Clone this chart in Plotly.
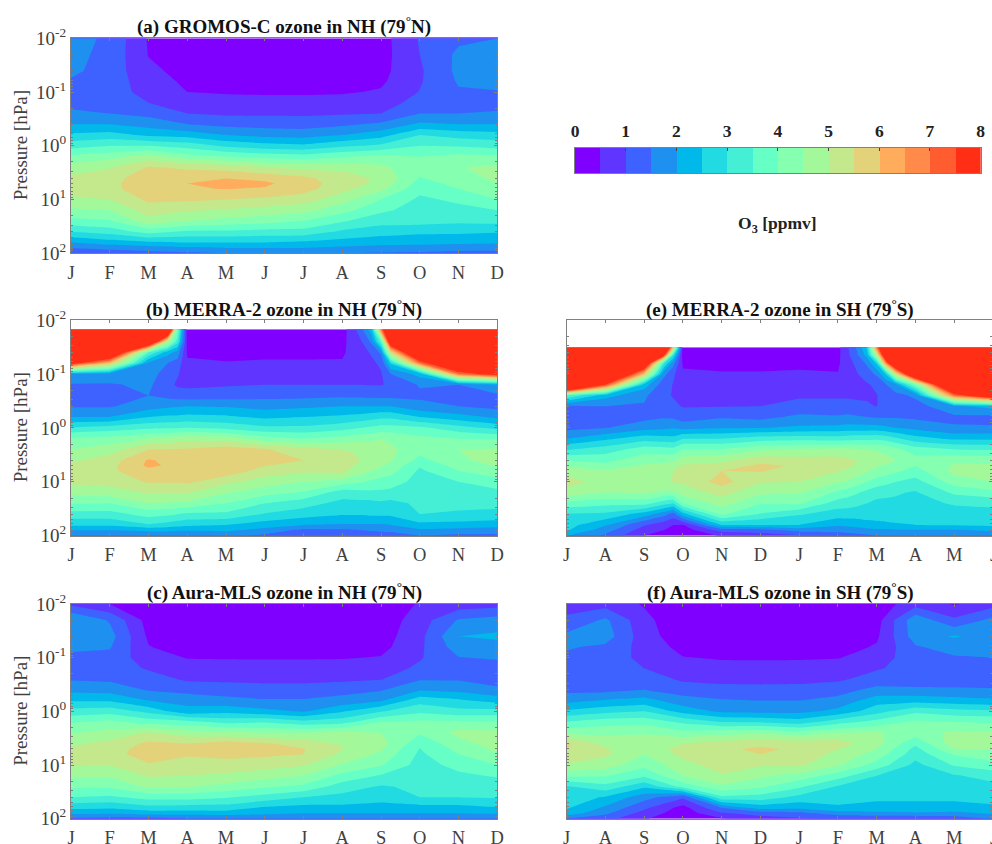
import numpy as np
import plotly.graph_objects as go

NH_MONTHS = ["J", "F", "M", "A", "M", "J", "J", "A", "S", "O", "N", "D"]
SH_MONTHS = ["J", "A", "S", "O", "N", "D", "J", "F", "M", "A", "M", "J"]
MONTH_POS = [0, 1, 2, 3, 4, 5, 6, 7, 8, 9, 10, 11]

P_FULL = [0.01, 0.02, 0.04, 0.063, 0.1, 0.158, 0.251, 0.398, 0.631, 1, 1.585, 2.512, 3.981, 5.012, 6.31, 10,
          15.85, 25.12, 39.81, 63.1, 79.43, 100]
P_MERRA_N = [0.0149, 0.0251, 0.04, 0.063, 0.1, 0.158, 0.251, 0.398, 0.631, 1, 1.585, 2.512, 3.981, 5.012, 6.31, 10,
             15.85, 25.12, 39.81, 63.1, 79.43, 100]
P_MERRA_S = [0.0321, 0.0447, 0.063, 0.1, 0.158, 0.251, 0.398, 0.631, 1, 1.585, 2.512, 3.981, 5.012, 6.31, 10,
             15.85, 25.12, 39.81, 63.1, 79.43, 100]

X_MERRA_N = [0, 1, 2, 2.5, 2.75, 3, 4, 5, 6, 7, 7.25, 7.5, 7.75, 8, 8.25, 9, 10, 11]
X_MERRA_S = [0, 1, 2, 2.5, 2.75, 3, 4, 5, 6, 7, 7.25, 7.5, 7.75, 8, 8.25, 8.5, 9, 10, 11]

# each inner list is one month, from the top pressure level to the bottom one
GROMOS_NH = [
    [1.7, 1.65, 1.6, 1.45, 1.3, 1.35, 1.6, 2, 2.6, 3.3, 4.1, 4.75, 5.1, 5.15, 5.2, 4.9, 4.4, 3.85, 3, 2, 1.5, 1.1],
    [1.4, 1.35, 1.3, 1.25, 1.2, 1.25, 1.5, 2, 2.7, 3.5, 4.3, 4.95, 5.3, 5.35, 5.35, 5, 4.5, 3.95, 3.2, 2.25, 1.65, 1.2],
    [.45, .48, .6, .75, .85, 1, 1.35, 1.8, 2.4, 3.5, 4.7, 5.55, 5.8, 5.85, 5.85, 5.6, 5.25, 4.8, 3.7, 2.4, 1.8, 1.3],
    [.3, .3, .35, .4, .5, .75, 1, 1.5, 2.3, 3.3, 4.2, 5.4, 5.85, 6, 5.95, 5.6, 5.05, 4.5, 3.4, 2.5, 1.9, 1.4],
    [.2, .2, .25, .3, .45, .7, .92, 1.35, 2, 2.9, 4, 5.3, 5.98, 6.2, 6.02, 5.5, 4.95, 4.3, 3.4, 2.5, 2, 1.5],
    [.15, .15, .2, .3, .43, .68, .92, 1.3, 1.85, 2.7, 3.8, 5, 5.85, 6.1, 5.95, 5.4, 4.8, 4.2, 3.3, 2.5, 2, 1.5],
    [.15, .15, .2, .3, .43, .68, .92, 1.27, 1.8, 2.6, 3.7, 4.85, 5.6, 5.7, 5.7, 5.25, 4.65, 4, 3.3, 2.4, 2, 1.5],
    [.2, .2, .25, .3, .45, .7, .95, 1.4, 2, 2.9, 3.95, 4.85, 5.25, 5.3, 5.15, 4.7, 4.2, 3.55, 2.9, 2.3, 1.9, 1.5],
    [.3, .3, .35, .42, .55, .75, 1, 1.6, 2.3, 3.1, 4.15, 4.6, 4.9, 4.85, 4.65, 4, 3.6, 3.2, 2.7, 2.2, 1.8, 1.45],
    [1.05, 1, .93, .95, 1.02, 1.2, 1.5, 2.1, 3, 3.5, 4, 4.2, 3.97, 3.8, 3.65, 3.4, 3.3, 3.2, 2.6, 2.15, 1.8, 1.4],
    [1.4, 1.6, 1.62, 1.55, 1.45, 1.35, 1.5, 2, 2.8, 3.45, 4.15, 4.48, 4.3, 4.15, 4, 3.6, 3.35, 3.1, 2.6, 2.1, 1.75, 1.3],
    [1.5, 1.65, 1.7, 1.6, 1.48, 1.35, 1.55, 2, 2.7, 3.3, 4.1, 4.6, 4.6, 4.5, 4.3, 4, 3.5, 3.15, 2.55, 2.05, 1.7, 1.3],
]

AURA_NH = [
    [.9, 2, 1.95, 1.6, 1.4, 1.3, 1.45, 1.85, 2.45, 3.2, 3.95, 4.45, 4.9, 5.05, 5.2, 5.05, 4.6, 4.1, 3.5, 2.6, 2.1, 1.4],
    [.5, 1.45, 1.7, 1.55, 1.35, 1.25, 1.4, 1.8, 2.45, 3.3, 4.15, 4.65, 5.15, 5.25, 5.3, 5, 4.55, 4.1, 3.4, 2.55, 2.05, 1.3],
    [.2, .3, .42, .52, .7, .95, 1.2, 1.45, 2, 2.85, 3.8, 5.05, 5.6, 5.75, 5.75, 5.45, 5.05, 4.6, 3.7, 2.8, 2.2, 1.3],
    [.1, .1, .2, .3, .48, .7, .93, 1.3, 1.85, 2.15, 3.7, 4.7, 5.5, 5.6, 5.55, 5.3, 5, 4.55, 3.7, 2.75, 2.2, 1.5],
    [.1, .1, .15, .25, .47, .68, .9, 1.25, 1.65, 2.35, 3.35, 4.65, 5.7, 5.75, 5.65, 5.3, 4.9, 4.35, 3.55, 2.75, 2.25, 1.5],
    [.1, .1, .15, .25, .46, .68, .88, 1.2, 1.55, 2.15, 3.45, 4.5, 5.55, 5.65, 5.6, 5.2, 4.7, 4.1, 3.3, 2.4, 2.1, 1.6],
    [.1, .1, .15, .25, .46, .68, .87, 1.2, 1.55, 1.95, 3.15, 4.5, 5.3, 5.52, 5.5, 5.05, 4.5, 3.9, 3, 2.3, 2, 1.6],
    [.1, .12, .17, .28, .47, .7, .9, 1.3, 1.7, 2.45, 3.3, 4.65, 4.95, 5.02, 4.9, 4.45, 3.85, 3.25, 2.85, 2.35, 2, 1.6],
    [.15, .2, .27, .35, .53, .75, .97, 1.45, 1.95, 2.95, 4, 4.5, 4.7, 4.55, 4.4, 4.05, 3.45, 2.95, 2.7, 2.3, 2, 1.6],
    [.55, .75, .85, .9, .95, 1.1, 1.45, 1.95, 2.8, 3.4, 4.1, 4.05, 3.65, 3.48, 3.4, 3.3, 3.2, 3.1, 3, 2.3, 2, 1.5],
    [.7, 1.55, 2, 1.75, 1.48, 1.3, 1.45, 1.85, 2.6, 3.15, 4.1, 4.65, 4.3, 4.15, 4, 3.65, 3.4, 3.2, 3, 2.3, 2, 1.5],
    [.8, 1.7, 2.1, 1.8, 1.55, 1.3, 1.3, 1.6, 2.3, 3.2, 4.05, 4.65, 4.75, 4.6, 4.45, 4, 3.55, 3.2, 3.05, 2.45, 2.05, 1.6],
]

AURA_SH = [
    [.9, 1.05, 1.65, 1.55, 1.4, 1.25, 1.2, 1.35, 1.85, 2.6, 3.55, 4.4, 5.6, 5.5, 5.3, 4.95, 4.1, 2.95, 2.75, 2.55, 2.3, 1.5],
    [.8, 1.6, 1.75, 1.4, 1.3, 1.2, 1.2, 1.35, 2.05, 2.85, 3.8, 4.35, 4.85, 5.05, 5.1, 4.75, 4.05, 3.35, 2.45, 1.9, 1.6, 1.2],
    [.45, .65, .72, .8, .85, 1, 1.25, 1.5, 2.2, 3, 3.85, 4.45, 4.75, 4.65, 4.5, 4.15, 3.6, 2.6, 1.7, 1.1, .8, .55],
    [.1, .1, .2, .35, .52, .72, .92, 1.25, 1.7, 2.3, 3.4, 4.15, 5, 5.2, 5.15, 4.8, 4.5, 3.7, 1.1, .3, .2, .15],
    [.1, .1, .15, .25, .46, .65, .87, 1.15, 1.55, 1.9, 3, 4.3, 5.25, 5.4, 5.5, 5.25, 4.95, 4.4, 3.4, 1.5, .95, .45],
    [.1, .1, .15, .25, .45, .65, .85, 1.15, 1.5, 1.85, 2.95, 4.45, 5.35, 5.6, 5.5, 5.05, 4.6, 4.1, 3.3, 2.2, 1.2, .8],
    [.1, .1, .15, .25, .46, .65, .87, 1.15, 1.5, 1.85, 2.75, 4.2, 5.3, 5.4, 5.35, 5.1, 4.3, 3.6, 2.85, 2.1, 1.35, .95],
    [.1, .1, .17, .3, .48, .7, .92, 1.3, 1.65, 2.15, 3.3, 4.5, 5.25, 5.02, 4.85, 4.55, 3.75, 2.95, 2.75, 2.4, 1.75, 1.05],
    [.2, .3, .42, .55, .7, .95, 1.2, 1.65, 2.3, 2.8, 3.7, 4.55, 4.7, 4.5, 4.3, 3.8, 3, 2.8, 2.65, 2.25, 1.9, 1.05],
    [.8, 1.85, 1.75, 1.45, 1.35, 1.2, 1.1, 1.65, 2.3, 3.4, 4.1, 4.25, 3.6, 3.35, 3.2, 2.85, 2.75, 2.7, 2.65, 2.25, 1.95, 1.1],
    [.45, 1.1, 2.05, 1.7, 1.45, 1.3, 1.2, 1.6, 2.2, 3.2, 4, 4.6, 4.8, 4.5, 4.05, 3.55, 2.95, 2.8, 2.65, 2.25, 1.9, 1.1],
    [.8, 1.65, 1.8, 1.65, 1.5, 1.35, 1.25, 1.55, 2.1, 3.1, 3.95, 4.6, 4.75, 4.5, 4.35, 3.8, 3.2, 2.85, 2.7, 2.4, 2.05, 1.6],
]

MERRA_NH = [
    [10, 10, 10, 8.1, 2, 1.45, 1.35, 1.45, 2, 3.05, 4.1, 4.5, 4.9, 5.1, 5.25, 5.15, 4.65, 4.05, 3.3, 2.6, 2, 1.6],
    [10, 10, 10, 6, 1.85, 1.45, 1.3, 1.45, 2, 3.2, 4.2, 4.75, 5.25, 5.35, 5.4, 5.2, 4.75, 4, 3.3, 2.6, 2, 1.6],
    [10, 10, 3.5, 1.9, 1.75, 1.6, 1.5, 1.75, 2.5, 3.4, 4.5, 5.5, 6.05, 6.1, 5.85, 5.55, 5.05, 4.5, 3.7, 2.95, 2.1, 1.6],
    [10.5, 5, 2.2, 1.5, 1.25, 1.15, 1.35, 1.9, 2.6, 3.45, 4.65, 5.52, 5.9, 5.95, 5.85, 5.55, 5.05, 4.45, 3.6, 2.8, 2.1, 1.6],
    [4, 3.2, 1.8, 1.3, 1.05, .92, 1.25, 1.95, 2.6, 3.45, 4.75, 5.55, 5.8, 5.85, 5.8, 5.55, 5.05, 4.4, 3.5, 2.7, 2.05, 1.55],
    [.3, .35, .45, .55, .7, .9, 1.2, 2, 2.65, 3.5, 4.8, 5.55, 5.75, 5.8, 5.8, 5.6, 5.05, 4.4, 3.4, 2.6, 2.05, 1.55],
    [.3, .3, .4, .52, .68, .95, 1.25, 1.95, 2.6, 3.35, 4.8, 5.75, 5.95, 5.95, 5.8, 5.15, 4.55, 4, 3.4, 2.5, 2.1, 1.6],
    [.25, .28, .4, .55, .75, 1, 1.35, 1.8, 2.4, 3.1, 4.2, 5.55, 5.8, 5.52, 5.3, 4.75, 4.2, 3.5, 2.95, 2.25, 1.8, 1.4],
    [.22, .25, .4, .55, .78, 1, 1.35, 1.9, 2.5, 3.1, 4, 5.2, 5.5, 5.3, 5.1, 4.5, 3.95, 3.2, 2.75, 2, 1.35, 1],
    [.3, .35, .42, .55, .8, 1, 1.4, 2, 2.6, 3.3, 4.2, 4.98, 5.3, 5.47, 5.2, 4.25, 3.25, 2.85, 2.55, 1.95, 1.4, 1.05],
    [.75, .7, .65, .7, .85, 1, 1.38, 2, 2.65, 3.4, 4.3, 4.95, 5.15, 5.05, 4.85, 4.15, 3.3, 2.85, 2.55, 1.95, 1.45, 1.1],
    [1.4, 1, .85, .8, .9, 1, 1.38, 2, 2.7, 3.5, 4.35, 4.85, 4.98, 4.9, 4.7, 4.05, 3.35, 2.85, 2.55, 1.95, 1.5, 1.15],
    [2.3, 1.6, 1.05, .9, .92, .98, 1.35, 2, 2.8, 3.6, 4.4, 4.75, 4.85, 4.75, 4.5, 3.9, 3.4, 2.85, 2.6, 1.95, 1.55, 1.2],
    [7, 3.5, 1.6, 1.1, .95, .98, 1.35, 2, 2.9, 3.7, 4.5, 4.7, 4.8, 4.55, 4.3, 3.8, 3.4, 2.9, 2.6, 1.95, 1.6, 1.25],
    [10, 9, 5.5, 2.6, 1.5, 1.05, 1.35, 2, 2.9, 3.7, 4.4, 4.6, 4.55, 4.35, 4.2, 3.75, 3.35, 2.85, 2.6, 2, 1.6, 1.3],
    [10, 10, 10, 7, 2.2, 1.55, 1.4, 1.65, 2.5, 3.6, 4.15, 4.2, 3.85, 3.55, 3.4, 3.3, 3.2, 3.1, 3, 2.35, 1.9, 1.5],
    [10, 10, 10, 10, 7, 1.5, 1.3, 1.5, 2.2, 3.2, 4, 4.5, 4.4, 4.2, 4, 3.5, 3.3, 3.1, 2.95, 2.3, 1.8, 1.4],
    [10, 10, 10, 10, 8.1, 2, 1.4, 1.35, 1.9, 2.85, 3.95, 4.55, 4.7, 4.55, 4.3, 3.8, 3.35, 3.1, 2.9, 2.2, 1.75, 1.35],
]

MERRA_SH = [
    [11, 11, 11, 11, 12.5, 3.5, 1.4, 1.35, 1.35, 2, 2.95, 3.95, 4.4, 4.8, 5.2, 4.8, 3.85, 2.95, 2.7, 2.55, 2],
    [11, 11, 11, 11, 7.5, 2.2, 1.5, 1.35, 1.48, 2.4, 3.25, 3.85, 4.15, 4.55, 4.8, 4.5, 3.65, 2.9, 2.05, 1.7, 1.4],
    [11, 11, 9.5, 6, 2.3, 1.6, 1.45, 1.35, 1.8, 2.8, 3.75, 4.35, 4.55, 4.65, 4.85, 4.6, 3.7, 2.25, 1.05, .75, .5],
    [11, 8, 3.2, 1.7, 1.2, 1.1, 1.3, 1.45, 1.9, 2.7, 3.7, 4.35, 4.65, 4.8, 4.85, 4.4, 3.2, 1.7, .7, .5, .35],
    [6, 3, 1.7, 1.1, .98, .97, 1.1, 1.42, 1.95, 2.65, 3.65, 4.4, 4.85, 5, 5.05, 4.4, 3, 1.3, .5, .4, .3],
    [.2, .25, .42, .58, .72, .82, .97, 1.25, 1.85, 3, 4.05, 4.75, 5.05, 5.2, 5.1, 4.7, 4, 2.3, .45, .2, .1],
    [.15, .2, .32, .55, .72, .87, .98, 1.45, 1.95, 3, 4.05, 4.85, 5.2, 5.5, 5.7, 5.2, 4.7, 4.1, 2.5, 1.2, .55],
    [.15, .2, .32, .55, .72, .87, 1, 1.35, 1.98, 3.25, 4.4, 5.3, 5.6, 5.55, 5.05, 4.6, 4.05, 3.45, 2.5, 1.3, .7],
    [.2, .25, .37, .58, .75, .92, 1.2, 1.6, 2.1, 3.3, 4.55, 5.2, 5.45, 5.2, 5, 4.55, 4.1, 3.05, 2.5, 1.7, .95],
    [.35, .38, .42, .52, .7, .92, 1.2, 1.55, 2.15, 3.25, 4.6, 5.2, 5.35, 5.05, 4.55, 3.9, 3.25, 2.75, 2.1, 1.65, 1.25],
    [.95, .9, .8, .72, .75, .92, 1.2, 1.6, 2.2, 3.3, 4.6, 5.1, 5.1, 4.9, 4.45, 3.75, 3.2, 2.75, 2.15, 1.7, 1.3],
    [1.6, 1.45, 1.15, .98, .85, .93, 1.1, 1.55, 2.2, 3.35, 4.55, 5, 4.95, 4.75, 4.25, 3.55, 3.1, 2.75, 2.2, 1.75, 1.35],
    [2.6, 2.2, 1.6, 1.25, .95, .95, 1.05, 1.5, 2.2, 3.35, 4.5, 4.85, 4.75, 4.55, 4, 3.35, 3, 2.75, 2.3, 1.85, 1.4],
    [7, 5, 2.6, 1.6, 1.1, .98, .99, 1.45, 2.2, 3.4, 4.45, 4.75, 4.55, 4.35, 3.8, 3.15, 2.9, 2.75, 2.35, 1.9, 1.5],
    [10, 9.5, 7, 2.6, 1.5, 1.2, 1.2, 1.45, 2.1, 3.3, 4.35, 4.65, 4.45, 4.25, 3.65, 3.1, 2.9, 2.75, 2.4, 1.9, 1.5],
    [11, 11, 10, 5.5, 1.9, 1.35, 1.25, 1.45, 2, 3.1, 4.15, 4.5, 4.3, 4.1, 3.5, 3.05, 2.9, 2.75, 2.45, 1.95, 1.5],
    [11, 11, 11, 10, 4, 1.6, 1.3, 1.4, 1.85, 2.7, 3.75, 4.2, 4.02, 3.8, 3.3, 2.95, 2.85, 2.75, 2.5, 1.95, 1.55],
    [11, 11, 11, 11, 11, 7, 1.9, 1.4, 1.55, 2.4, 3.5, 4.4, 4.55, 4.65, 4.25, 3.6, 3.05, 2.8, 2.55, 1.95, 1.55],
    [11, 11, 11, 11, 11, 9, 2.2, 1.35, 1.55, 2.4, 3.45, 4.35, 4.6, 4.85, 4.5, 3.85, 3.1, 2.85, 2.6, 2.05, 1.6],
]

BAND_COLORS = ["#8000ff", "#5f35ff", "#3e62ff", "#1e90f0", "#00b8ea", "#22dbe2", "#45efd5", "#66ffc5",
               "#85ffb0", "#a3f99a", "#c4e88c", "#e3d27a", "#ffad5c", "#ff8a4a", "#ff5c30", "#ff2e15"]
BAND_EDGES = [0, .5, 1, 1.5, 2, 2.5, 3, 3.5, 4, 4.5, 5, 5.5, 6, 6.5, 7, 7.5, 8]
BAND_MIDS = [.25, .75, 1.25, 1.75, 2.25, 2.75, 3.25, 3.75, 4.25, 4.75, 5.25, 5.75, 6.25, 6.75, 7.25, 7.75]
CBAR_TICKS = [0, 1, 2, 3, 4, 5, 6, 7, 8]
P_TICKS = [0.01, 0.1, 1, 10, 100]
P_TICK_TEXT = ["10<sup>-2</sup>", "10<sup>-1</sup>", "10<sup>0</sup>", "10<sup>1</sup>", "10<sup>2</sup>"]
P_MINOR = [0.02, 0.03, 0.04, 0.05, 0.06, 0.07, 0.08, 0.09, 0.2, 0.3, 0.4, 0.5, 0.6, 0.7, 0.8, 0.9,
           2, 3, 4, 5, 6, 7, 8, 9, 20, 30, 40, 50, 60, 70, 80, 90]

W, H = 992, 844
SERIF = "Liberation Serif"
TICK_COL = "#404040"
AXIS_COL = "#808080"

stops = []
for i, c in enumerate(BAND_COLORS):
    stops += [[i / 16, c], [(i + 1) / 16, c]]


def xd(a, b):
    return [a / W, b / W]


def yd(top, bottom):
    return [1 - bottom / H, 1 - top / H]


panels = [
    dict(n="", xs=MONTH_POS, ps=P_FULL, z=GROMOS_NH, lab=NH_MONTHS, px=(71, 497.3), py=(38.3, 253.3), left=True,
         title="(a) GROMOS-C ozone in NH (79<sup>°</sup>N)", tx=284, ty=25.5),
    dict(n="2", xs=X_MERRA_N, ps=P_MERRA_N, z=MERRA_NH, lab=NH_MONTHS, px=(71, 497.3), py=(320, 535.7), left=True,
         title="(b) MERRA-2 ozone in NH (79<sup>°</sup>N)", tx=284, ty=308),
    dict(n="3", xs=MONTH_POS, ps=P_FULL, z=AURA_NH, lab=NH_MONTHS, px=(71, 497.3), py=(604, 818.7), left=True,
         title="(c) Aura-MLS ozone in NH (79<sup>°</sup>N)", tx=284, ty=591),
    dict(n="4", xs=X_MERRA_S, ps=P_MERRA_S, z=MERRA_SH, lab=SH_MONTHS, px=(566.7, 992), py=(320, 535.7), left=False,
         title="(e) MERRA-2 ozone in SH (79<sup>°</sup>S)", tx=780, ty=308),
    dict(n="5", xs=MONTH_POS, ps=P_FULL, z=AURA_SH, lab=SH_MONTHS, px=(566.7, 992), py=(604, 818.7), left=False,
         title="(f) Aura-MLS ozone in SH (79<sup>°</sup>S)", tx=780, ty=591),
]

fig = go.Figure()
layout = {}
annotations = []

for p in panels:
    n = p["n"]
    fig.add_trace(go.Contour(
        x=p["xs"], y=p["ps"], z=np.array(p["z"]).T.tolist(),
        xaxis="x" + n, yaxis="y" + n, zmin=0, zmax=8, colorscale=stops, showscale=False,
        contours=dict(start=.5, end=7.5, size=.5, coloring="fill", showlines=False),
        line=dict(width=0, smoothing=0), hoverinfo="skip",
    ))
    x_max = 11 * (p["px"][1] - p["px"][0]) / (497.3 - 71) if not p["left"] else 11
    layout["xaxis" + n] = dict(
        domain=xd(*p["px"]), anchor="y" + n, range=[0, x_max], tickvals=MONTH_POS, ticktext=p["lab"],
        ticks="inside", ticklen=3, tickcolor=AXIS_COL, showgrid=False, zeroline=False, showline=True,
        linecolor=AXIS_COL, linewidth=1, mirror="ticks", tickangle=0, ticklabelstandoff=2,
        tickfont=dict(family=SERIF, size=18.5, color=TICK_COL),
    )
    layout["yaxis" + n] = dict(
        domain=yd(*p["py"]), anchor="x" + n, type="log", range=[2, -2], tickvals=P_TICKS, ticktext=P_TICK_TEXT,
        ticks="inside", ticklen=3, tickcolor=AXIS_COL, showgrid=False, zeroline=False, showline=True,
        linecolor=AXIS_COL, linewidth=1, mirror="ticks", showticklabels=p["left"],
        tickfont=dict(family=SERIF, size=19, color=TICK_COL),
        minor=dict(ticks="inside", ticklen=2, tickcolor=AXIS_COL, tickvals=P_MINOR, showgrid=False),
    )
    annotations.append(dict(text=p["title"], x=p["tx"] / W, y=1 - p["ty"] / H, xref="paper", yref="paper",
                            xanchor="center", yanchor="middle", showarrow=False,
                            font=dict(family=SERIF, size=19, color="#111111", weight="bold")))
    if p["left"]:
        annotations.append(dict(text="Pressure [hPa]", x=20.5 / W, y=1 - (p["py"][0] + p["py"][1]) / 2 / H,
                                xref="paper", yref="paper", xanchor="center", yanchor="middle", textangle=-90,
                                showarrow=False, font=dict(family=SERIF, size=19, color=TICK_COL)))
    else:
        annotations.append(dict(text=p["lab"][-1], x=993 / W, y=1 - (p["py"][1] + 19) / H, xref="paper", yref="paper",
                                xanchor="center", yanchor="middle", showarrow=False,
                                font=dict(family=SERIF, size=18.5, color=TICK_COL)))

fig.add_trace(go.Heatmap(x=BAND_EDGES, y=[0, 1], z=[BAND_MIDS], xaxis="x6", yaxis="y6", zmin=0, zmax=8,
                         colorscale=stops, showscale=False, hoverinfo="skip"))
layout["xaxis6"] = dict(domain=xd(575, 980.7), anchor="y6", range=[0, 8], side="top", tickvals=CBAR_TICKS,
                        ticks="inside", ticklen=3, tickcolor="#444444", showgrid=False, zeroline=False, showline=True,
                        linecolor=AXIS_COL, linewidth=1, mirror=True, ticklabelstandoff=3,
                        tickfont=dict(family=SERIF, size=17.5, color="#222222", weight="bold"))
layout["yaxis6"] = dict(domain=yd(147.7, 173.3), anchor="x6", range=[0, 1], showticklabels=False, ticks="",
                        showgrid=False, zeroline=False, showline=True, linecolor=AXIS_COL, linewidth=1, mirror=True)
annotations.append(dict(text="O<sub>3</sub> [ppmv]", x=777 / W, y=1 - 224 / H, xref="paper", yref="paper",
                        xanchor="center", yanchor="middle", showarrow=False,
                        font=dict(family=SERIF, size=17.5, color="#222222", weight="bold")))

fig.update_layout(width=W, height=H, margin=dict(l=0, r=0, t=0, b=0, autoexpand=False),
                  paper_bgcolor="white", plot_bgcolor="white",
                  showlegend=False, annotations=annotations, **layout)
fig.write_html("out.html", config={"displayModeBar": False},
               post_script="document.body.style.margin='0';document.body.style.overflow='hidden';")
